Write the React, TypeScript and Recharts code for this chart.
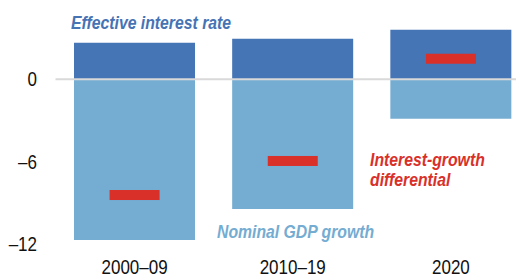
import React from "react";
import { ComposedChart, Bar, Scatter, XAxis, YAxis, ReferenceLine } from "recharts";

const periods = ["2000–09", "2010–19", "2020"];
const interestRate = [2.66, 2.96, 3.61];
const gdpGrowth = [-11.7, -9.45, -2.88];
const differential = [-8.43, -5.95, 1.5];
const yTicks = [-12, -6, 0];

const FONT = '"Liberation Sans", Arial, sans-serif';

const data = periods.map((p, i) => ({
  period: p,
  interest: interestRate[i],
  growth: gdpGrowth[i],
  diff: differential[i],
}));

const Marker = (props: any) => {
  const { cx, cy } = props;
  if (cx == null || cy == null) return null;
  return <rect x={cx - 25} y={cy - 5} width={50} height={10} fill="#d9302a" />;
};

// narrow-looking tick text (original uses a condensed face)
const XTick = (props: any) => {
  const { x, y, payload } = props;
  return (
    <g transform={`translate(${x},${y}) scale(0.85,1)`}>
      <text x={0} y={0} dy="0.71em" textAnchor="middle" fill="#111" fontSize={20} fontFamily={FONT}>
        {payload.value}
      </text>
    </g>
  );
};

const YTick = (props: any) => {
  const { x, y, payload } = props;
  return (
    <g transform={`translate(${x},${y}) scale(0.85,1)`}>
      <text x={0} y={0} dy="0.355em" textAnchor="end" fill="#111" fontSize={20} fontFamily={FONT}>
        {String(payload.value).replace("-", "–")}
      </text>
    </g>
  );
};

const labelStyle: React.CSSProperties = {
  position: "absolute",
  fontFamily: FONT,
  fontWeight: "bold",
  fontStyle: "italic",
  fontSize: 19,
  lineHeight: "20px",
  whiteSpace: "nowrap",
  transform: "scaleX(0.83)",
  transformOrigin: "0 0",
};

export default function App() {
  return (
    <div style={{ position: "fixed", left: 0, top: 0, width: 516, height: 275, overflow: "hidden", background: "#fff" }}>
      <div style={{ position: "absolute", left: 0, top: -3 }}>
        <ComposedChart
          width={530}
          height={287}
          data={data}
          margin={{ top: 0, right: 0, left: 0, bottom: 0 }}
          stackOffset="sign"
          barCategoryGap="11.7%"
        >
          <XAxis
            dataKey="period"
            axisLine={false}
            tickLine={false}
            tickSize={0}
            tickMargin={16}
            height={40}
            tick={<XTick />}
          />
          <YAxis
            domain={[-12, 6]}
            ticks={yTicks}
            width={55.5}
            axisLine={false}
            tickLine={false}
            tickSize={0}
            tickMargin={18.5}
            tick={<YTick />}
          />
          <Bar dataKey="interest" stackId="a" fill="#4575b5" isAnimationActive={false} />
          <Bar dataKey="growth" stackId="a" fill="#74acd2" isAnimationActive={false} />
          <ReferenceLine y={0} stroke="#d9d9d9" strokeWidth={2} />
          <Scatter dataKey="diff" shape={<Marker />} isAnimationActive={false} />
        </ComposedChart>
      </div>
      <div style={{ ...labelStyle, left: 71, top: 13, color: "#4673b4" }}>Effective interest rate</div>
      <div style={{ ...labelStyle, left: 217, top: 222, color: "#74acd2" }}>Nominal GDP growth</div>
      <div style={{ ...labelStyle, left: 370, top: 150, color: "#d9302a" }}>
        Interest-growth
        <br />
        differential
      </div>
    </div>
  );
}
